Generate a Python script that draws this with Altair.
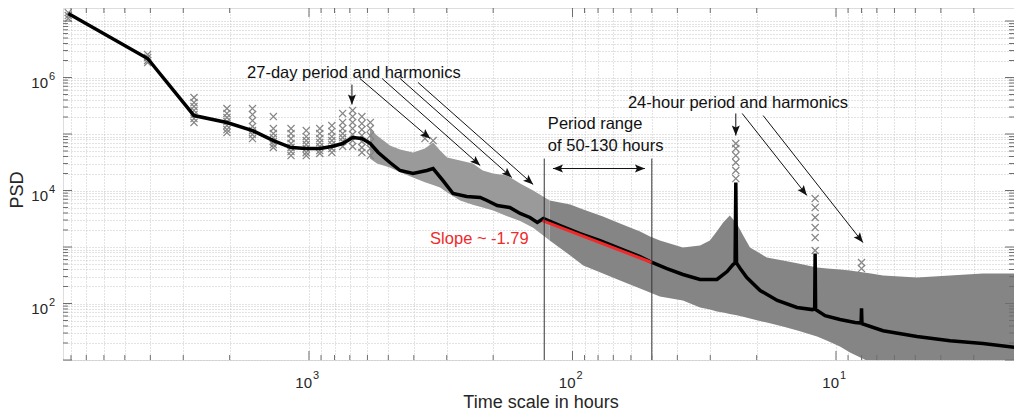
import math
import altair as alt
import pandas as pd

# ---------------- data ----------------
# mean PSD (black line)
line_period = [8192, 4096, 2731, 2048, 1638, 1365, 1170, 1024, 910, 819,
               745, 683, 630, 585, 546, 493, 451, 403, 357, 338,
               310, 284, 252, 224, 211, 193, 173, 158, 145, 136,
               129, 111.5, 93.6, 78.6, 66.0, 55.4, 49.9, 43.8, 38.1, 32.8,
               28.3, 25.9, 24.6, 24.15, 24.0, 23.85, 23.1, 21.8, 19.4, 16.7,
               14.06, 12.3, 12.05, 12.0, 11.95, 11.0, 9.66, 8.47, 8.03, 8.0,
               7.97, 6.63, 4.93, 3.69, 2.77, 2.06, 2.0]
line_psd = [1.36e7, 2.17e6, 2.12e5, 1.60e5, 1.15e5, 7.67e4, 5.77e4, 5.54e4, 5.54e4, 6.01e4,
            6.79e4, 8.67e4, 8.32e4, 6.79e4, 4.71e4, 3.13e4, 2.26e4, 2.0e4, 2.26e4, 2.45e4,
            1.50e4, 8.85e3, 7.83e3, 7.52e3, 6.65e3, 5.43e3, 5.0e3, 3.92e3, 3.33e3, 2.72e3,
            3.19e3, 2.40e3, 1.73e3, 1.30e3, 940, 679, 532, 416, 326, 266,
            266, 368, 490, 520, 1.39e4, 520, 416, 288, 170, 113,
            85, 78, 80, 770, 78, 61, 52, 46, 45, 82,
            44, 33, 26, 22, 19.6, 16.6, 16]

# envelope of the dense cloud of individual PSD estimates (grey band)
band_period = [587, 552, 493, 451, 403, 363, 338, 318, 299, 267,
               239, 219, 200, 177, 158, 141, 122, 102, 91, 76.6,
               66, 55.4, 50.8, 46.6, 38.1, 32.8, 30.1, 28.3, 26.8, 25.3,
               23.8, 22.5, 21.2, 18.3, 15.9, 13.9, 11.8, 10.8, 9.66, 8.85,
               7.37, 6.63, 4.93, 3.69, 2.77, 2.0]
band_upper = [1.25e5, 9.4e4, 6.25e4, 5.3e4, 4.71e4, 5.54e4, 7.08e4, 5.1e4, 3.84e4, 3.4e4,
              3.0e4, 2.26e4, 2.0e4, 1.84e4, 1.33e4, 1.0e4, 6.65e3, 5.65e3, 4.6e3, 3.47e3,
              2.6e3, 1.88e3, 1.53e3, 1.30e3, 980, 1.06e3, 1.30e3, 1.9e3, 2.72e3, 3.61e3,
              2.6e3, 1.6e3, 980, 652, 577, 510, 433, 416, 400, 384,
              340, 313, 289, 313, 340, 340]
band_lower = [3.68e4, 3.0e4, 2.55e4, 2.1e4, 1.70e4, 1.4e4, 1.25e4, 1.13e4, 9.2e3, 6.65e3,
              5.6e3, 5.0e3, 4.43e3, 3.5e3, 2.9e3, 2.2e3, 1.30e3, 708, 471, 340,
              255, 184, 157, 133, 113, 85, 78, 72, 69, 65,
              62, 58, 54, 46, 39, 33, 26, 22, 17.3, 13.6,
              9.0, 7.5, 5.3, 5, 5, 5]

# individual estimates at the lowest frequencies (columns of crosses)
col_period = [8192, 4096, 2731, 2048, 1638, 1365, 1170, 1024, 910, 819, 745, 683, 630, 585]
col_psd = [
    [1.41e7, 1.25e7, 1.11e7],
    [2.55e6, 2.26e6, 2.0e6, 1.84e6],
    [4.43e5, 3.61e5, 3.07e5, 2.61e5, 2.21e5, 1.88e5, 1.60e5],
    [2.83e5, 2.31e5, 1.96e5, 1.66e5, 1.41e5, 1.20e5, 1.06e5],
    [2.83e5, 2.21e5, 1.73e5, 1.36e5, 1.15e5, 9.8e4, 8.3e4],
    [2.04e5, 1.25e5, 1.02e5, 8.67e4, 7.37e4, 6.51e4, 5.77e4],
    [1.25e5, 1.02e5, 8.3e4, 6.79e4, 5.77e4, 4.9e4, 4.16e4],
    [1.15e5, 9.0e4, 7.67e4, 6.51e4, 5.54e4, 4.71e4, 4.16e4],
    [1.25e5, 1.02e5, 8.3e4, 7.08e4, 6.01e4, 5.1e4, 4.52e4],
    [1.41e5, 1.11e5, 9.0e4, 7.67e4, 6.51e4, 5.54e4, 4.71e4],
    [2.31e5, 1.60e5, 1.25e5, 1.02e5, 8.67e4, 7.37e4, 6.01e4],
    [2.61e5, 2.04e5, 1.60e5, 1.25e5, 9.8e4, 7.67e4, 6.01e4],
    [2.04e5, 1.53e5, 1.20e5, 9.4e4, 7.37e4, 5.77e4, 4.71e4],
    [1.60e5, 1.25e5, 9.4e4, 7.08e4, 5.54e4, 4.16e4],
]

# crosses standing out of the cloud (harmonic peaks)
out_period = [363, 338, 24.0, 24.0, 24.0, 24.0, 24.0, 24.0,
              12.0, 12.0, 12.0, 12.0, 12.0, 12.0, 8.0, 8.0]
out_psd = [8.3e4, 7.67e4, 6.79e4, 5.54e4, 4.16e4, 3.13e4, 2.26e4, 1.63e4,
           7.2e3, 5.0e3, 3.33e3, 2.21e3, 1.47e3, 867, 532, 416]

# fitted slope segment
slope_period = [130, 50]
slope_psd = [2940, 532]

# period range markers
vline_period = [128, 50]
vline_top = [3.68e4, 3.68e4]
vline_bottom = [10, 10]

# annotations
ann_text = ["27-day period and harmonics", "Period range", "of 50-130 hours",
            "24-hour period and harmonics", "Slope ~ -1.79"]
ann_period = [1718, 124, 124, 61.6, 347]
ann_psd = [1.18e6, 1.53e5, 6.25e4, 3.47e5, 1.36e3]
ann_color = ["#111111", "#111111", "#111111", "#111111", "#f0292b"]

arrow_x1 = [687, 641, 528, 451, 386, 24.0, 22.7, 18.9, 118.6]
arrow_y1 = [7.5e5, 9.6e5, 9.6e5, 9.6e5, 8.2e5, 2.31e5, 2.31e5, 2.12e5, 2.45e4]
arrow_x2 = [687, 347, 224, 170, 141, 24.0, 12.9, 7.9, 53.1]
arrow_y2 = [3.33e5, 8.3e4, 2.77e4, 1.70e4, 1.28e4, 9.4e4, 8.2e3, 1.20e3, 2.45e4]
arrow_both = [False, False, False, False, False, False, False, False, True]

# axis ticks / labels
x_major = [1000, 100, 10]
x_exp = ["3", "2", "1"]
y_major_lab = [1000000, 10000, 100]
y_exp = ["6", "4", "2"]

# ---------------- geometry / style ----------------
W, H = 951, 352
XMIN, XMAX = 2.111, 8580.0
YMIN, YMAX = 10.0, 1.70e7
FONT = "Liberation Sans"
GREY = "#858585"
GREY_LIGHT = "#9a9a9a"
AXC = "#6e6e6e"

x_grid = [k * 10 ** n for n in range(0, 4) for k in range(1, 10) if XMIN <= k * 10 ** n <= XMAX]
y_grid = [k * 10 ** n for n in range(1, 8) for k in range(1, 10) if YMIN <= k * 10 ** n <= YMAX]
x_minor = [v for v in x_grid if v not in x_major]
y_major = [10 ** n for n in range(1, 8)]
y_minor = [v for v in y_grid if v not in y_major]

xs = alt.Scale(type="log", domain=[XMIN, XMAX], reverse=True, nice=False)
ys = alt.Scale(type="log", domain=[YMIN, YMAX], nice=False)
xaxis = alt.Axis(values=x_grid, grid=True, gridDash=[1, 2], gridColor="#c6c6c6",
                 labels=False, ticks=False, domain=False, title="")
yaxis = alt.Axis(values=y_grid, grid=True, gridDash=[1, 2], gridColor="#c6c6c6",
                 labels=False, ticks=False, domain=False, title="")


def X(f):
    return alt.X(f, type="quantitative", scale=xs, axis=xaxis)


def Y(f):
    return alt.Y(f, type="quantitative", scale=ys, axis=yaxis)


def px(h):
    return W * (math.log10(XMAX) - math.log10(h)) / (math.log10(XMAX) - math.log10(XMIN))


def py(p):
    return H * (math.log10(YMAX) - math.log10(p)) / (math.log10(YMAX) - math.log10(YMIN))


def head_angle(xa, ya, xb, yb):
    dx = px(xb) - px(xa)
    dy = py(yb) - py(ya)
    return (math.degrees(math.atan2(dx, -dy)) + 360) % 360


# ---------------- tables ----------------
line_df = pd.DataFrame({"period": line_period, "psd": line_psd})
band_df = pd.DataFrame({"period": band_period, "up": band_upper, "lo": band_lower})
pts = []
for per, vals in zip(col_period, col_psd):
    for v in vals:
        pts.append({"period": per, "psd": v})
for per, v in zip(out_period, out_psd):
    pts.append({"period": per, "psd": v})
pts_df = pd.DataFrame(pts)
slope_df = pd.DataFrame({"period": slope_period, "psd": slope_psd})
vline_df = pd.DataFrame({"period": vline_period, "top": vline_top, "bot": vline_bottom})
ann_df = pd.DataFrame({"period": ann_period, "psd": ann_psd, "text": ann_text, "c": ann_color})
arrow_df = pd.DataFrame({"x1": arrow_x1, "y1": arrow_y1, "x2": arrow_x2, "y2": arrow_y2})
heads = []
for a, b, c, d, both in zip(arrow_x1, arrow_y1, arrow_x2, arrow_y2, arrow_both):
    heads.append({"x": c, "y": d, "angle": head_angle(a, b, c, d)})
    if both:
        heads.append({"x": a, "y": b, "angle": head_angle(c, d, a, b)})
heads_df = pd.DataFrame(heads)
xmaj_df = pd.DataFrame({"v": x_major, "e": x_exp})
xmin_df = pd.DataFrame({"v": x_minor})
ymaj_df = pd.DataFrame({"v": y_major})
ymin_df = pd.DataFrame({"v": y_minor})
ylab_df = pd.DataFrame({"v": y_major_lab, "e": y_exp})

CROSS = "M-1,-1L1,1M-1,1L1,-1"
HEAD = "M0,0L1,2.5L0,2L-1,2.5Z"

band_left = alt.Chart(band_df).transform_filter("datum.period >= 122").mark_area(
    color=GREY_LIGHT, opacity=1, clip=True).encode(x=X("period"), y=Y("up"), y2="lo")
band_right = alt.Chart(band_df).transform_filter("datum.period <= 122").mark_area(
    color=GREY, opacity=1, clip=True).encode(x=X("period"), y=Y("up"), y2="lo")
crosses = alt.Chart(pts_df).mark_point(shape=CROSS, filled=False, color=GREY, size=50,
                                       strokeWidth=1.2, opacity=1, clip=True).encode(
    x=X("period"), y=Y("psd"))
mean_line = alt.Chart(line_df).mark_line(color="#000000", strokeWidth=3.5, clip=True).encode(
    x=X("period"), y=Y("psd"))
slope = alt.Chart(slope_df).mark_line(color="#f0292b", strokeWidth=3).encode(
    x=X("period"), y=Y("psd"))
vlines = alt.Chart(vline_df).mark_rule(color="#333333", strokeWidth=1).encode(
    x=X("period"), y=Y("top"), y2="bot")
arrows = alt.Chart(arrow_df).mark_rule(color="#111111", strokeWidth=1).encode(
    x=X("x1"), x2="x2", y=Y("y1"), y2="y2")
arrow_heads = alt.Chart(heads_df).mark_point(shape=HEAD, filled=True, color="#111111",
                                             size=64, strokeWidth=0, opacity=1).encode(
    x=X("x"), y=Y("y"), angle=alt.Angle("angle:Q", scale=None))
ann = alt.Chart(ann_df).mark_text(align="left", baseline="middle", fontSize=16.5, font=FONT).encode(
    x=X("period"), y=Y("psd"), text="text:N", color=alt.Color("c:N", scale=None))

# inward ticks on all four sides
tk = dict(color=AXC, strokeWidth=1)
ticks = [
    alt.Chart(xmaj_df).mark_rule(**tk).encode(x=X("v"), y=alt.value(H), y2=alt.value(H - 9)),
    alt.Chart(xmaj_df).mark_rule(**tk).encode(x=X("v"), y=alt.value(0), y2=alt.value(9)),
    alt.Chart(xmin_df).mark_rule(**tk).encode(x=X("v"), y=alt.value(H), y2=alt.value(H - 5)),
    alt.Chart(xmin_df).mark_rule(**tk).encode(x=X("v"), y=alt.value(0), y2=alt.value(5)),
    alt.Chart(ymaj_df).mark_rule(**tk).encode(y=Y("v"), x=alt.value(0), x2=alt.value(9)),
    alt.Chart(ymaj_df).mark_rule(**tk).encode(y=Y("v"), x=alt.value(W - 9), x2=alt.value(W)),
    alt.Chart(ymin_df).mark_rule(**tk).encode(y=Y("v"), x=alt.value(0), x2=alt.value(5)),
    alt.Chart(ymin_df).mark_rule(**tk).encode(y=Y("v"), x=alt.value(W - 5), x2=alt.value(W)),
]

LABC = "#262626"
xlab10 = alt.Chart(xmaj_df).mark_text(align="right", baseline="middle", dx=3, fontSize=15,
                                      font=FONT, color=LABC).encode(
    x=X("v"), y=alt.value(375), text=alt.value("10"))
xlabe = alt.Chart(xmaj_df).mark_text(align="left", baseline="middle", dx=4, fontSize=11,
                                     font=FONT, color=LABC).encode(
    x=X("v"), y=alt.value(368), text="e:N")
ylab10 = alt.Chart(ylab_df).mark_text(align="right", baseline="middle", dy=5, fontSize=15,
                                      font=FONT, color=LABC).encode(
    y=Y("v"), x=alt.value(-15), text=alt.value("10"))
ylabe = alt.Chart(ylab_df).mark_text(align="left", baseline="middle", dy=-1, fontSize=11,
                                     font=FONT, color=LABC).encode(
    y=Y("v"), x=alt.value(-14), text="e:N")

titles_df = pd.DataFrame({"t": ["PSD"]})
ytitle = alt.Chart(titles_df).mark_text(angle=270, align="center", baseline="middle",
                                        fontSize=18, font=FONT, color=LABC).encode(
    x=alt.value(-45), y=alt.value(182), text="t:N")
xtitle_df = pd.DataFrame({"t": ["Time scale in hours"]})
xtitle = alt.Chart(xtitle_df).mark_text(align="center", baseline="middle",
                                        fontSize=18, font=FONT, color=LABC).encode(
    x=alt.value(478), y=alt.value(395), text="t:N")

chart = alt.layer(
    band_left, band_right, crosses, mean_line, slope, vlines, arrows, arrow_heads, ann,
    *ticks, xlab10, xlabe, ylab10, ylabe, ytitle, xtitle
).properties(
    width=W, height=H,
    padding={"left": 55, "top": 0, "right": 0, "bottom": 51},
    autosize=alt.AutoSizeParams(type="none"),
).configure_view(stroke="#7a7a7a", strokeWidth=1).configure(background="white")

chart.save("out.html", embed_options={"renderer": "svg", "actions": False})
